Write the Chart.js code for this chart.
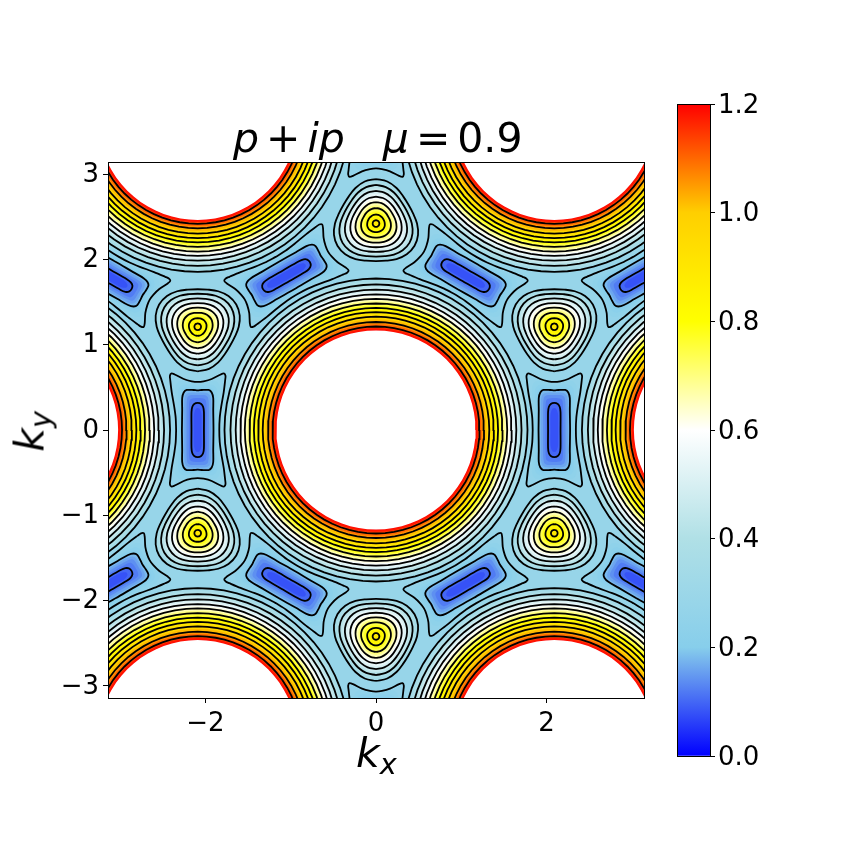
<!DOCTYPE html>
<html>
<head>
<meta charset="utf-8">
<title>p+ip contour</title>
<script src="https://cdn.jsdelivr.net/npm/chart.js@4/dist/chart.umd.min.js"></script>
<style>
  body { margin: 0; background: #fff; font-family: "DejaVu Sans", sans-serif; color: #000; }
  canvas { position: absolute; }
  .label { position: absolute; white-space: nowrap; line-height: 1; }
  .label sub { font-size: 0.7em; vertical-align: -0.25em; line-height: 0; }
  .op { margin: 0 7px; }
</style>
</head>
<body>
<canvas id="contourChart" width="864" height="864" style="left:0;top:0"></canvas>
<canvas id="colorbarChart" width="160" height="700" style="left:640px;top:80px"></canvas>
<div class="label" style="left:233px;top:118px;font-size:41px"><i>p</i><span class="op">+</span><i>ip</i><i style="margin-left:38px">μ</i><span class="op">=</span>0.9</div>
<div class="label" style="left:356px;top:733px;font-size:41px"><i>k<sub>x</sub></i></div>
<div class="label" style="left:-2px;top:411px;font-size:41px;width:64px;text-align:center;transform:rotate(-90deg)"><i>k<sub>y</sub></i></div>
<script>
// axis ticks
var xTicks = [-2, 0, 2];
var yTicks = [-3, -2, -1, 0, 1, 2, 3];
var colorbarTicks = [0, 0.2, 0.4, 0.6, 0.8, 1.0, 1.2];

// colormap
var colorStopValues = [0, 0.2, 0.4, 0.6, 0.8, 1.0, 1.2];
var colorStopColors = [[0, 0, 255], [135, 206, 235], [176, 224, 230], [255, 255, 255], [255, 255, 0], [255, 207, 0], [255, 0, 0]];
var plateauValue = 0.28;

// levels that carry a black line
var contourLevels = [0.08, 0.16, 0.24, 0.32, 0.40, 0.48, 0.56, 0.64, 0.72, 0.80, 0.88, 0.96, 1.04, 1.12];

// rings around the white holes
var holeCentres = [[0, 0], [4.19, 0], [-4.19, 0], [2.09, 3.63], [-2.09, 3.63], [2.09, -3.63], [-2.09, -3.63]];
var holeRadius = 1.167;
var ringLevels = [0.32, 0.36, 0.40, 0.44, 0.48, 0.52, 0.56, 0.60, 0.64, 0.68, 0.72, 0.76, 0.80, 0.84, 0.88, 0.92, 0.96, 1.00, 1.04, 1.08, 1.12, 1.16, 1.20];
var ringRadii = [1.776, 1.741, 1.706, 1.675, 1.645, 1.618, 1.590, 1.564, 1.538, 1.510, 1.483, 1.457, 1.431, 1.407, 1.381, 1.354, 1.328, 1.298, 1.266, 1.240, 1.213, 1.193, 1.172];

// rounded triangular peaks: centre x, centre y, direction of one corner in degrees
var peakCentres = [[0, 2.42, 90], [0, -2.42, 270], [2.09, 1.21, 270], [-2.09, 1.21, 270], [2.09, -1.21, 90], [-2.09, -1.21, 90]];
var peakLevels = [0.32, 0.36, 0.40, 0.44, 0.48, 0.52, 0.56, 0.60, 0.64, 0.68, 0.72, 0.76, 0.80, 0.84, 0.88];
// radius at 0, 15, 30, 45, 60 degrees away from a corner
var peakRadii = [
  [0.522, 0.510, 0.481, 0.451, 0.440],
  [0.487, 0.476, 0.450, 0.424, 0.414],
  [0.453, 0.443, 0.420, 0.396, 0.387],
  [0.417, 0.409, 0.388, 0.367, 0.359],
  [0.383, 0.376, 0.358, 0.339, 0.332],
  [0.349, 0.342, 0.327, 0.312, 0.305],
  [0.315, 0.310, 0.297, 0.284, 0.278],
  [0.284, 0.279, 0.267, 0.256, 0.251],
  [0.252, 0.247, 0.238, 0.229, 0.224],
  [0.217, 0.213, 0.205, 0.197, 0.193],
  [0.182, 0.179, 0.174, 0.168, 0.164],
  [0.143, 0.142, 0.138, 0.135, 0.132],
  [0.106, 0.106, 0.103, 0.101, 0.100],
  [0.070, 0.070, 0.070, 0.069, 0.069],
  [0.039, 0.039, 0.039, 0.039, 0.039]
];

// blue valleys: centre x, centre y, long axis direction in degrees
var valleyCentres = [
  [2.09, 0, 90], [-2.09, 0, 90], [0, 3.63, 90], [0, -3.63, 90],
  [1.05, 1.81, 150], [-1.05, 1.81, 30], [1.05, -1.81, 30], [-1.05, -1.81, 150],
  [3.14, 1.81, 30], [-3.14, 1.81, 150], [3.14, -1.81, 150], [-3.14, -1.81, 30]
];
var valleyLevels = [0.24, 0.22, 0.20, 0.18, 0.16, 0.14, 0.12, 0.10, 0.08, 0.06];
// one quarter of each outline: [across, along] the long axis
var valleyOutlines = [
  [[0.253, 0], [0.258, 0.141], [0.275, 0.270], [0.305, 0.445], [0.322, 0.586], [0.326, 0.633], [0.311, 0.662], [0.270, 0.651], [0.164, 0.598], [0.070, 0.571], [0, 0.563]],
  [[0.238, 0], [0.240, 0.211], [0.258, 0.399], [0.258, 0.516], [0.211, 0.574], [0.082, 0.557], [0, 0.545]],
  [[0.223, 0], [0.223, 0.234], [0.229, 0.399], [0.223, 0.481], [0.176, 0.528], [0.070, 0.528], [0, 0.522]],
  [[0.205, 0], [0.205, 0.258], [0.205, 0.399], [0.188, 0.469], [0.147, 0.498], [0.059, 0.498], [0, 0.492]],
  [[0.185, 0], [0.182, 0.234], [0.182, 0.375], [0.164, 0.440], [0.129, 0.469], [0.047, 0.469], [0, 0.465]],
  [[0.158, 0], [0.158, 0.234], [0.156, 0.352], [0.141, 0.410], [0.106, 0.434], [0.035, 0.440], [0, 0.437]],
  [[0.131, 0], [0.131, 0.234], [0.129, 0.328], [0.117, 0.387], [0.088, 0.407], [0.029, 0.410], [0, 0.410]],
  [[0.103, 0], [0.103, 0.234], [0.101, 0.305], [0.091, 0.352], [0.064, 0.369], [0.023, 0.375], [0, 0.375]],
  [[0.073, 0], [0.073, 0.211], [0.064, 0.270], [0.041, 0.305], [0, 0.317]],
  [[0.045, 0], [0.045, 0.176], [0.035, 0.223], [0.018, 0.252], [0, 0.258]]
];

function colorAt(value) {
  var i = 0;
  if (value >= 1.2) return 'rgb(255,0,0)';
  while (value > colorStopValues[i + 1]) i++;
  var t = (value - colorStopValues[i]) / (colorStopValues[i + 1] - colorStopValues[i]);
  var a = colorStopColors[i], b = colorStopColors[i + 1];
  return 'rgb(' + Math.round(a[0] + (b[0] - a[0]) * t) + ',' + Math.round(a[1] + (b[1] - a[1]) * t) + ',' + Math.round(a[2] + (b[2] - a[2]) * t) + ')';
}

function isContour(level) {
  return contourLevels.indexOf(level) !== -1;
}

function ringPoints(centre, radius) {
  var pts = [];
  for (var deg = 0; deg <= 360; deg += 5) {
    var a = deg * Math.PI / 180;
    pts.push({ x: centre[0] + radius * Math.cos(a), y: centre[1] + radius * Math.sin(a) });
  }
  return pts;
}

function peakPoints(centre, radii) {
  var pts = [];
  for (var k = 0; k <= 24; k++) {
    var phase = k % 8;
    var r = radii[phase <= 4 ? phase : 8 - phase];
    var a = (centre[2] + 15 * k) * Math.PI / 180;
    pts.push({ x: centre[0] + r * Math.cos(a), y: centre[1] + r * Math.sin(a) });
  }
  return pts;
}

function valleyPoints(centre, quarter) {
  // mirror the quarter round both axes, then turn it onto the long axis
  var loop = quarter.slice();
  var i;
  for (i = quarter.length - 2; i >= 0; i--) loop.push([-quarter[i][0], quarter[i][1]]);
  for (i = 1; i < quarter.length; i++) loop.push([-quarter[i][0], -quarter[i][1]]);
  for (i = quarter.length - 2; i >= 0; i--) loop.push([quarter[i][0], -quarter[i][1]]);
  var a = centre[2] * Math.PI / 180;
  return loop.map(function (p) {
    return { x: centre[0] + p[1] * Math.cos(a) - p[0] * Math.sin(a), y: centre[1] + p[1] * Math.sin(a) + p[0] * Math.cos(a) };
  });
}

var fills = [];
var lines = [];

function addLevel(points, level, tension) {
  fills.push({ data: points, showLine: true, fill: 'shape', backgroundColor: colorAt(level + 0.02), borderWidth: 0, tension: tension, capBezierPoints: false, clip: 0 });
  if (isContour(level)) {
    lines.push({ data: points, showLine: true, fill: false, borderColor: '#000', borderWidth: 1.8, tension: tension, capBezierPoints: false, clip: 0 });
  }
}

holeCentres.forEach(function (centre) {
  ringLevels.forEach(function (level, i) {
    addLevel(ringPoints(centre, ringRadii[i]), level, 0);
  });
  fills.push({ data: ringPoints(centre, holeRadius), showLine: true, fill: 'shape', backgroundColor: '#fff', borderWidth: 0, tension: 0, clip: 0 });
});

peakCentres.forEach(function (centre) {
  peakLevels.forEach(function (level, i) {
    addLevel(peakPoints(centre, peakRadii[i]), level, 0.35);
  });
});

valleyCentres.forEach(function (centre) {
  valleyLevels.forEach(function (level, i) {
    // inside a valley the colour falls towards the middle
    addLevel(valleyPoints(centre, valleyOutlines[i]), level, 0.3);
  });
});

// chart.js paints the first dataset last
var datasets = lines.concat(fills.reverse());

var framePlugin = {
  id: 'frame',
  afterDraw: function (chart) {
    var area = chart.chartArea;
    var ctx = chart.ctx;
    ctx.save();
    ctx.strokeStyle = '#000';
    ctx.lineWidth = 1;
    ctx.strokeRect(area.left + 0.5, area.top + 0.5, area.right - area.left, area.bottom - area.top);
    ctx.restore();
  }
};

var plateauPlugin = {
  id: 'plateau',
  beforeDatasetsDraw: function (chart) {
    var area = chart.chartArea;
    chart.ctx.save();
    chart.ctx.fillStyle = colorAt(plateauValue);
    chart.ctx.fillRect(area.left, area.top, area.right - area.left, area.bottom - area.top);
    chart.ctx.restore();
  }
};

function minusLabel(value) {
  return String(value).replace('-', '\u2212');
}

var tickFont = { family: '"DejaVu Sans"', size: 26 };

new Chart(document.getElementById('contourChart'), {
  type: 'scatter',
  data: { datasets: datasets },
  plugins: [plateauPlugin, framePlugin],
  options: {
    responsive: false,
    animation: false,
    events: [],
    layout: { padding: { left: 0, top: 162, right: 220, bottom: 0 } },
    elements: { point: { radius: 0 } },
    plugins: { legend: { display: false }, tooltip: { enabled: false } },
    scales: {
      x: {
        type: 'linear',
        min: -Math.PI,
        max: Math.PI,
        bounds: 'data',
        afterBuildTicks: function (scale) {
          scale.ticks = xTicks.map(function (v) { return { value: v }; });
        },
        afterFit: function (scale) { scale.height = 166; },
        grid: { drawOnChartArea: false, drawTicks: true, tickLength: 5, color: '#000' },
        border: { display: false },
        ticks: { color: '#000', font: tickFont, padding: 6, maxRotation: 0, autoSkip: false, callback: minusLabel }
      },
      y: {
        type: 'linear',
        min: -Math.PI,
        max: Math.PI,
        bounds: 'data',
        afterBuildTicks: function (scale) {
          scale.ticks = yTicks.map(function (v) { return { value: v }; });
        },
        afterFit: function (scale) { scale.width = 108; },
        grid: { drawOnChartArea: false, drawTicks: true, tickLength: 5, color: '#000' },
        border: { display: false },
        ticks: { color: '#000', font: tickFont, padding: 4, labelOffset: 1, autoSkip: false, callback: minusLabel }
      }
    }
  }
});

new Chart(document.getElementById('colorbarChart'), {
  type: 'bar',
  data: {
    labels: [''],
    datasets: [{
      data: [[colorbarTicks[0], colorbarTicks[colorbarTicks.length - 1]]],
      barPercentage: 1,
      categoryPercentage: 1,
      backgroundColor: function (context) {
        var chart = context.chart;
        if (!chart.chartArea) return '#fff';
        var y = chart.scales.y;
        var gradient = chart.ctx.createLinearGradient(0, y.getPixelForValue(0), 0, y.getPixelForValue(1.2));
        colorStopValues.forEach(function (v) {
          gradient.addColorStop(v / 1.2, colorAt(v));
        });
        return gradient;
      }
    }]
  },
  plugins: [framePlugin],
  options: {
    responsive: false,
    animation: false,
    events: [],
    layout: { padding: { left: 37, top: 24, right: 0, bottom: 24 } },
    plugins: { legend: { display: false }, tooltip: { enabled: false } },
    scales: {
      x: { display: false },
      y: {
        position: 'right',
        min: 0,
        max: 1.2,
        afterBuildTicks: function (scale) {
          scale.ticks = colorbarTicks.map(function (v) { return { value: v }; });
        },
        afterFit: function (scale) { scale.width = 90; },
        grid: { drawOnChartArea: false, drawTicks: true, tickLength: 5, color: '#000' },
        border: { display: false },
        ticks: {
          color: '#000',
          font: tickFont,
          padding: 3,
          labelOffset: 2,
          autoSkip: false,
          callback: function (value) { return value.toFixed(1); }
        }
      }
    }
  }
});
</script>
</body>
</html>
